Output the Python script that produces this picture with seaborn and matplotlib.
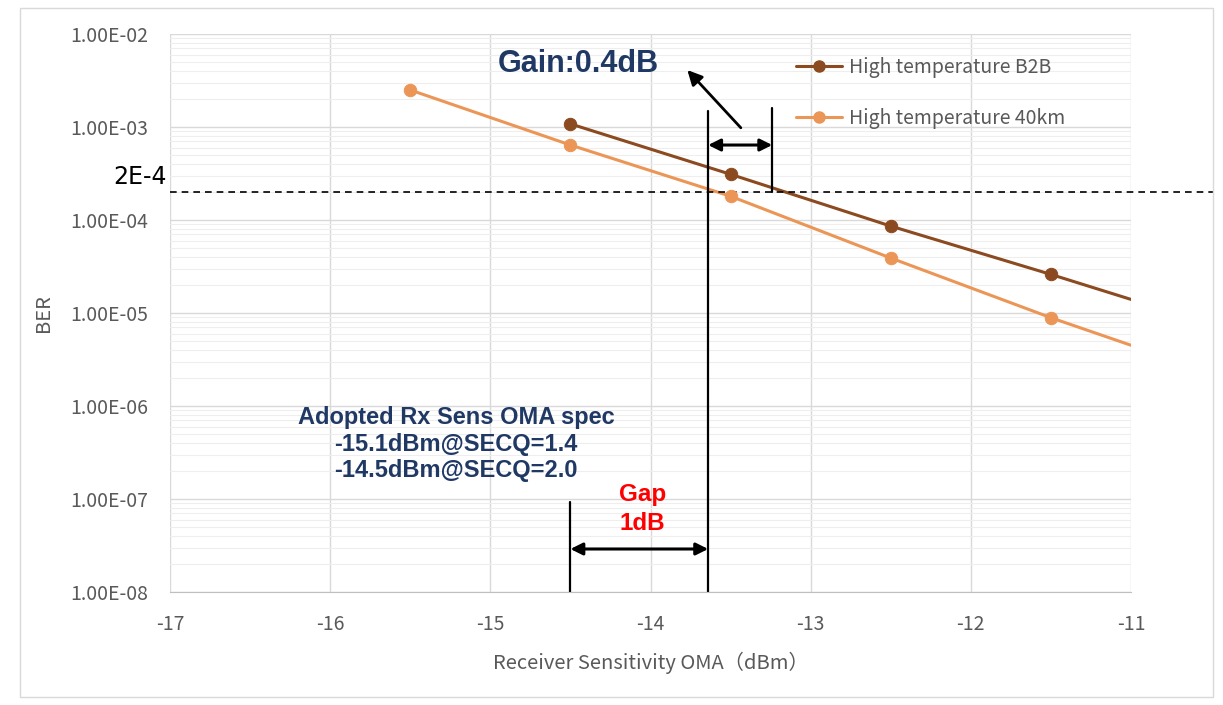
import numpy as np
import pandas as pd
import matplotlib
matplotlib.use("Agg")
import matplotlib.pyplot as plt
import seaborn as sns
from matplotlib.lines import Line2D
from matplotlib.patches import Rectangle
from matplotlib.ticker import LogLocator, FixedLocator

# data (line runs on past the last marker to -11)
oma_b2b = [-14.5, -13.5, -12.5, -11.5, -11.0]
ber_b2b = [1.08e-3, 3.1e-4, 8.6e-5, 2.6e-5, 1.4e-5]
oma_40km = [-15.5, -14.5, -13.5, -12.5, -11.5, -11.0]
ber_40km = [2.5e-3, 6.4e-4, 1.8e-4, 3.9e-5, 8.9e-6, 4.5e-6]
measured_b2b = 4
measured_40km = 5

ber_limit = 2e-4
sens_point = -13.64      # where 40km crosses the limit
sens_b2b = -13.24        # where B2B crosses the limit
spec_oma = -14.5

labels = ["High temperature B2B", "High temperature 40km"]
colors = ["#8b4a1f", "#eb9656"]
yticks = [1e-2, 1e-3, 1e-4, 1e-5, 1e-6, 1e-7, 1e-8]
ytick_labels = ["1.00E-02", "1.00E-03", "1.00E-04", "1.00E-05", "1.00E-06", "1.00E-07", "1.00E-08"]
xticks = [-17, -16, -15, -14, -13, -12, -11]

df_b2b = pd.DataFrame({"oma": oma_b2b, "ber": ber_b2b})
df_40 = pd.DataFrame({"oma": oma_40km, "ber": ber_40km})

sns.set_style("white")
plt.rcParams['font.family'] = ['Noto Sans CJK SC', 'DejaVu Sans']

fig = plt.figure(figsize=(12.23, 7.05), dpi=100)
ax = fig.add_axes([170 / 1223, 1 - 592 / 705, (1131 - 170) / 1223, (592 - 34) / 705])

fig.patches.append(Rectangle((20 / 1223, 8 / 705), 1193 / 1223, 689 / 705, transform=fig.transFigure,
                             fill=False, edgecolor="#d9d9d9", linewidth=1))

gray = "#595959"
for df, n, c in [(df_b2b, measured_b2b, colors[0]), (df_40, measured_40km, colors[1])]:
    sns.lineplot(data=df, x="oma", y="ber", color=c, linewidth=2.2, ax=ax, estimator=None, sort=False)
    sns.scatterplot(data=df.iloc[:n], x="oma", y="ber", color=c, s=80, edgecolor=c, ax=ax, zorder=5)

ax.set_yscale("log")
ax.set_xlim(-17, -11)
ax.set_ylim(1e-8, 1e-2)
ax.yaxis.set_major_locator(FixedLocator(yticks))
ax.set_yticklabels(ytick_labels)
ax.yaxis.set_minor_locator(LogLocator(base=10, subs=np.arange(2, 10)))
ax.set_xticks(xticks)
ax.set_xticklabels([str(v) for v in xticks])
ax.tick_params(axis="both", which="both", length=0, labelsize=14, labelcolor=gray)
ax.tick_params(axis="x", pad=16)
ax.tick_params(axis="y", pad=15.5)
ax.grid(True, which="major", color="#d9d9d9", linewidth=1)
ax.grid(True, which="minor", axis="y", color="#eeeeee", linewidth=0.8)
for s in ["top", "right", "left"]:
    ax.spines[s].set_visible(False)
ax.spines["bottom"].set_color("#bfbfbf")

ax.set_xlabel("Receiver Sensitivity OMA（dBm）", fontsize=14.5, color=gray, labelpad=12)
ax.set_ylabel("BER", fontsize=14.5, color=gray, labelpad=12)

handles = [Line2D([], [], color=c, marker="o", markersize=8, linewidth=2.2) for c in colors]
leg = ax.legend(handles, labels, loc="upper left", bbox_to_anchor=(0.633, 0.99), frameon=False,
                fontsize=14, labelspacing=1.55, handlelength=2.4, handletextpad=0.35)
for t in leg.get_texts():
    t.set_color(gray)

# 2E-4 limit
ax.axhline(ber_limit, xmin=0, xmax=1.085, color="black", linestyle=(0, (4, 3)), linewidth=1.2, clip_on=False)
ax.text(-17.02, 2.9e-4, "2E-4", ha="right", va="center", fontsize=17, color="black",
        family=["DejaVu Sans"])

# vertical markers
ax.plot([sens_point, sens_point], [1e-8, 1.5e-3], color="black", linewidth=1.6)
ax.plot([sens_b2b, sens_b2b], [ber_limit, 1.6e-3], color="black", linewidth=1.6)
ax.plot([spec_oma, spec_oma], [1e-8, 9.3e-8], color="black", linewidth=1.6)

arrow = dict(arrowstyle="<|-|>", color="black", linewidth=2.2, mutation_scale=18, shrinkA=0, shrinkB=0)
ax.annotate("", xy=(sens_point, 6.4e-4), xytext=(sens_b2b, 6.4e-4), arrowprops=arrow)
ax.annotate("", xy=(spec_oma, 2.9e-8), xytext=(sens_point, 2.9e-8), arrowprops=arrow)
ax.annotate("", xy=(-13.77, 4.1e-3), xytext=(-13.436, 9.8e-4),
            arrowprops=dict(arrowstyle="-|>", color="black", linewidth=2, mutation_scale=22, shrinkA=0, shrinkB=0))

navy = "#1f3864"
ax.text(-14.45, 4.8e-3, "Gain:0.4dB", ha="center", va="center", fontsize=22, fontweight="bold",
        color=navy, family=["Liberation Sans"])
ax.text(-15.215, 3.9e-7, "Adopted Rx Sens OMA spec\n-15.1dBm@SECQ=1.4\n-14.5dBm@SECQ=2.0",
        ha="center", va="center", fontsize=17, fontweight="bold", color=navy,
        family=["Liberation Sans"], linespacing=1.2)
ax.text(-14.05, 7.8e-8, "Gap\n1dB", ha="center", va="center", fontsize=17.5, fontweight="bold",
        color="#ff0000", family=["Liberation Sans"], linespacing=1.3)

fig.savefig("out.png", dpi=100)
